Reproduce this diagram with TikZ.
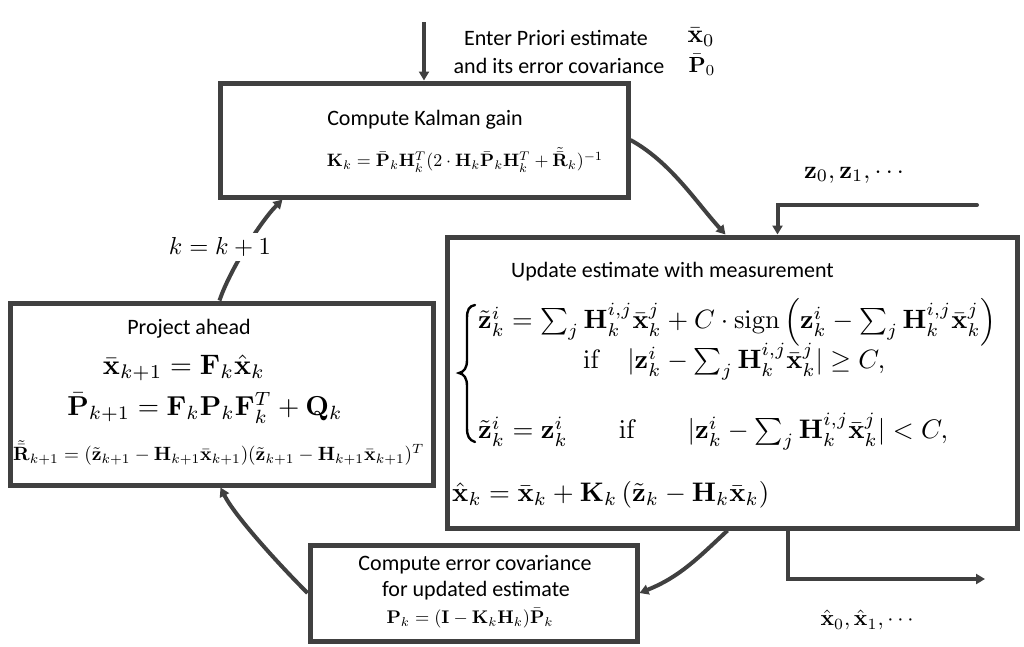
\documentclass[tikz,border=0pt]{standalone}
\usepackage[no-math]{fontspec}
\usepackage{graphicx}
\newfontfamily\cali{Carlito}
\usetikzlibrary{arrows.meta,calc}
\definecolor{ln}{HTML}{404040}
\newcommand\fm[2]{\resizebox{#1pt}{!}{$#2$}}
\begin{document}
\begin{tikzpicture}[x=1pt,y=-1pt,
  box/.style={draw=ln, line width=5pt, rectangle, inner sep=0pt},
  arr/.style={draw=ln, line width=4pt, -{Triangle[length=9pt,width=10pt]}},
  txt/.style={inner sep=0pt, font=\cali\fontsize{22}{26}\selectfont, text=black},
  mth/.style={inner sep=0pt, text=black}]
\useasboundingbox (0,0) rectangle (1024,646);
\fill[white] (0,0) rectangle (1024,646);

% boxes
\node[box, minimum width=408pt, minimum height=114pt] (kal) at (424,140) {};
\node[box, minimum width=570pt, minimum height=291pt] (upd) at (732,382.5) {};
\node[box, minimum width=423pt, minimum height=182pt] (prj) at (221.5,394) {};
\node[box, minimum width=327pt, minimum height=96pt] (err) at (473.5,593) {};

% input
\node[txt] (enter1) at (556,38) {Enter Priori estimate};
\node[txt] (enter2) at (559,66) {and its error covariance};
\node[mth] (x0) at (701,37) {\fm{27}{\bar{\mathbf{x}}_0}};
\node[mth] (p0) at (702,65) {\fm{27}{\bar{\mathbf{P}}_0}};
\coordinate (inS) at (424,22);
\draw[arr] (inS) -- (kal.north);

% Kalman gain
\node[txt] (kt) at (425,120) {Compute Kalman gain};
\node[mth] (kf) at (465,160) {\fm{276}{\mathbf{K}_k=\bar{\mathbf{P}}_k\mathbf{H}_k^T(2\cdot\mathbf{H}_k\bar{\mathbf{P}}_k\mathbf{H}_k^T+\tilde{\bar{\mathbf{R}}}_k)^{-1}}};

% update
\node[txt, anchor=west] (ut) at (511,272) {Update estimate with measurement};
\node[mth, anchor=west] (u1) at (478,322) {\fm{518}{\tilde{\mathbf{z}}^i_k=\sum_j\mathbf{H}^{i,j}_k\bar{\mathbf{x}}^j_k+C\cdot\mathrm{sign}\left(\mathbf{z}^i_k-\sum_j\mathbf{H}^{i,j}_k\bar{\mathbf{x}}^j_k\right)}};
\node[mth, anchor=west] (u2) at (583,362) {\fm{302}{\mathrm{if}\quad|\mathbf{z}^i_k-\sum_j\mathbf{H}^{i,j}_k\bar{\mathbf{x}}^j_k|\geq C,}};
\node[mth, anchor=west] (u3) at (478,432) {\fm{470}{\tilde{\mathbf{z}}^i_k=\mathbf{z}^i_k\hspace{19pt}\mathrm{if}\hspace{19pt}|\mathbf{z}^i_k-\sum_j\mathbf{H}^{i,j}_k\bar{\mathbf{x}}^j_k|<C,}};
\draw[line width=2.4pt, line cap=round, black]
  (475,305) .. controls (469,306) and (467,310) .. (467,318) -- (467,360)
  .. controls (467,368) and (464,372) .. (459,373)
  .. controls (464,374) and (467,378) .. (467,386) -- (467,428)
  .. controls (467,436) and (469,440) .. (475,442);
\node[mth, anchor=west] (u4) at (452,495) {\fm{317}{\hat{\mathbf{x}}_k=\bar{\mathbf{x}}_k+\mathbf{K}_k\left(\tilde{\mathbf{z}}_k-\mathbf{H}_k\bar{\mathbf{x}}_k\right)}};

% measurements
\node[mth] (zl) at (854,175) {\fm{100}{\mathbf{z}_0,\mathbf{z}_1,\cdots}};
\coordinate (zS) at (977,205);
\coordinate (zIn) at ($(upd.north west)+(333,0)$);
\draw[arr, line cap=round] (zS) -| (zIn);

% output
\node[mth] (xl) at (867,620) {\fm{93}{\hat{\mathbf{x}}_0,\hat{\mathbf{x}}_1,\cdots}};
\coordinate (uOut) at ($(upd.south west)+(343,0)$);
\coordinate (xOut) at (985,579);
\draw[arr] (uOut) |- (xOut);

% error covariance
\node[txt] (e1) at (475,565) {Compute error covariance};
\node[txt] (e2) at (476,591) {for updated estimate};
\node[mth] (e3) at (470,618) {\fm{167}{\mathbf{P}_k=(\mathbf{I}-\mathbf{K}_k\mathbf{H}_k)\bar{\mathbf{P}}_k}};

% project ahead
\node[txt] (pt) at (189,329) {Project ahead};
\node[mth] (p1) at (184,368) {\fm{162}{\bar{\mathbf{x}}_{k+1}=\mathbf{F}_k\hat{\mathbf{x}}_k}};
\node[mth] (p2) at (205,408) {\fm{275}{\bar{\mathbf{P}}_{k+1}=\mathbf{F}_k\mathbf{P}_k\mathbf{F}_k^T+\mathbf{Q}_k}};
\node[mth, anchor=west] (p3) at (13,453) {\fm{411}{\tilde{\bar{\mathbf{R}}}_{k+1}=(\tilde{\mathbf{z}}_{k+1}-\mathbf{H}_{k+1}\bar{\mathbf{x}}_{k+1})(\tilde{\mathbf{z}}_{k+1}-\mathbf{H}_{k+1}\bar{\mathbf{x}}_{k+1})^T}};

% cycle connectors
\coordinate (kIn) at ($(upd.north west)+(281,0)$);
\draw[arr] (kal.east) .. controls +(40,22) and +(-30,-33) .. (kIn);
\coordinate (uE) at ($(upd.south west)+(283,0)$);
\draw[arr] (uE) .. controls +(-30,28) and +(40,-16) .. (err.east);
\coordinate (pIn) at ($(prj.south west)+(213,0)$);
\draw[arr] (err.west) .. controls +(-30,-30) and +(14,28) .. (pIn);
\coordinate (pOut) at ($(prj.north west)+(212,0)$);
\coordinate (kIn2) at ($(kal.south west)+(65,0)$);
\draw[arr] (pOut) .. controls +(10,-30) and +(-22,22) .. (kIn2);
\node[mth, fill=white, inner sep=4pt] (kk) at (220,247) {\fm{102}{k=k+1}};
\end{tikzpicture}
\end{document}
